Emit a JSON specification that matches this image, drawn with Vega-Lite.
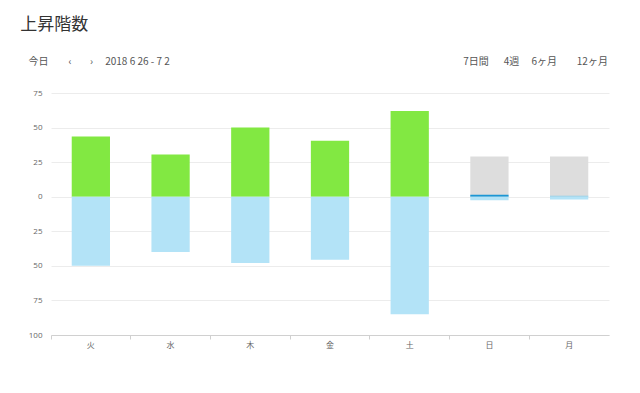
{
  "$schema": "https://vega.github.io/schema/vega-lite/v6.json",
  "width": 558,
  "height": 242,
  "padding": {"left": 20, "top": 16, "right": 31, "bottom": 5},
  "background": "white",
  "title": {
    "text": "上昇階数",
    "subtitle": "\u200b\u2002\u2004今日\u2003\u2003‹\u2003\u2002\u2004›\u2003 2018 6 26 - 7 2\u2003\u2003\u2003\u2003\u2003\u2003\u2003\u2003\u2003\u2003\u2003\u2003\u2003\u2003\u2003\u2003\u2003\u2003\u2003\u2003\u2003\u2003\u2003\u2003\u2003\u2003\u2003\u2003\u2003\u20047日間\u2003\u20024週\u2003 6ヶ月\u2003\u2002\u2005 12ヶ月",
    "anchor": "start",
    "dx": -8,
    "font": "Noto Sans CJK JP",
    "fontSize": 17,
    "fontWeight": "normal",
    "color": "#333333",
    "subtitleFont": "Noto Sans CJK JP",
    "subtitleFontSize": 10,
    "subtitleColor": "#555555",
    "subtitlePadding": 23,
    "offset": 21
  },
  "config": {"view": {"stroke": null}},
  "data": {
    "values": [
      {"day": "火", "series": "上昇", "value": 43.5},
      {"day": "火", "series": "下降", "value": -50},
      {"day": "水", "series": "上昇", "value": 30.5},
      {"day": "水", "series": "下降", "value": -40},
      {"day": "木", "series": "上昇", "value": 50},
      {"day": "木", "series": "下降", "value": -48},
      {"day": "金", "series": "上昇", "value": 40.5},
      {"day": "金", "series": "下降", "value": -45.5},
      {"day": "土", "series": "上昇", "value": 62},
      {"day": "土", "series": "下降", "value": -85},
      {"day": "日", "series": "目標", "value": 29},
      {"day": "日", "series": "今日", "value": 1.5},
      {"day": "日", "series": "下降", "value": -2.5},
      {"day": "月", "series": "目標", "value": 29},
      {"day": "月", "series": "予測", "value": 0.7},
      {"day": "月", "series": "下降", "value": -2}
    ]
  },
  "mark": {"type": "bar", "width": {"band": 0.48}},
  "encoding": {
    "x": {
      "field": "day",
      "type": "nominal",
      "sort": ["火", "水", "木", "金", "土", "日", "月"],
      "scale": {"paddingInner": 0, "paddingOuter": 0},
      "axis": {
        "title": null,
        "labelAngle": 0,
        "bandPosition": 0,
        "domainColor": "#d0d0d0",
        "tickColor": "#d0d0d0",
        "tickSize": 4,
        "labelFont": "Noto Sans CJK JP",
        "labelFontSize": 8,
        "labelColor": "#666666",
        "labelPadding": 2
      }
    },
    "y": {
      "field": "value",
      "type": "quantitative",
      "scale": {"domain": [-100, 75], "nice": false},
      "axis": {
        "title": null,
        "values": [-100, -75, -50, -25, 0, 25, 50, 75],
        "labelExpr": "abs(datum.value)",
        "domain": false,
        "ticks": false,
        "gridColor": "#ececec",
        "labelFont": "Open Sans",
        "labelFontSize": 8,
        "labelColor": "#666666",
        "labelPadding": 9
      }
    },
    "y2": {"datum": 0},
    "color": {
      "field": "series",
      "type": "nominal",
      "scale": {
        "domain": ["上昇", "下降", "目標", "今日", "予測"],
        "range": ["#82e842", "#b3e3f7", "#dddddd", "#1a96d4", "#8ccfea"]
      },
      "legend": null
    }
  }
}
